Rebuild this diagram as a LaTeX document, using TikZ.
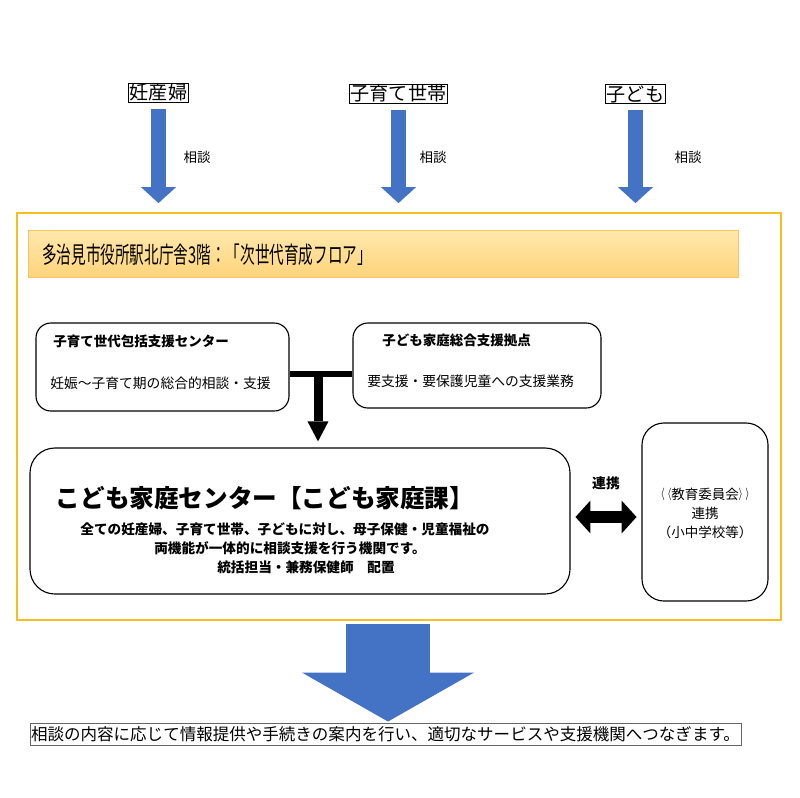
\documentclass[tikz,border=0pt]{standalone}
\usepackage{fontspec}
\usepackage{graphicx}
\setmainfont{Noto Sans CJK JP}
\usetikzlibrary{arrows.meta,fit}
\definecolor{azul}{HTML}{4472C4}
\definecolor{ouro}{HTML}{F4BF22}
\definecolor{faixaA}{HTML}{FFE8AC}
\definecolor{faixaB}{HTML}{FFD47C}
\begin{document}
\begin{tikzpicture}[x=0.025cm,y=-0.025cm,
  publico/.style={draw,inner xsep=1pt,inner ysep=.6pt,font=\fontsize{13.6pt}{14pt}\selectfont},
  consulta/.style={-{Triangle[width=24.8pt,length=11.3pt,line width=0pt]},line width=10.6pt,azul,
    shorten <=4.5pt,shorten >=6pt},
  nota/.style={font=\fontsize{9.6pt}{11pt}\selectfont,inner sep=0pt},
  moldura/.style={draw=ouro,line width=2.1pt,inner sep=0pt},
  faixa/.style={top color=faixaA,bottom color=faixaB,draw=faixaB!80!orange,line width=.3pt,inner sep=0pt},
  caixa/.style={draw,rounded corners=10.6pt,line width=.8pt,inner sep=0pt},
  titulo/.style={anchor=west,inner sep=0pt,font=\fontsize{9.6pt}{11pt}\selectfont\bfseries},
  texto/.style={anchor=west,inner sep=0pt,font=\fontsize{9.8pt}{11pt}\selectfont},
  linha/.style={inner sep=0pt,font=\fontsize{9.7pt}{11pt}\selectfont\bfseries},
  barra/.style={line width=4.3pt},
  haste/.style={-{Triangle[width=14.9pt,length=14.2pt,line width=0pt]},line width=6.4pt,shorten >=4.3pt},
  ligacao/.style={{Triangle[width=23.4pt,length=10.6pt,line width=0pt]}-{Triangle[width=23.4pt,length=10.6pt,line width=0pt]},
    line width=9.2pt,shorten <=3.5pt,shorten >=3.5pt},
  resultado/.style={-{Triangle[width=122pt,length=34.7pt,line width=0pt]},line width=60.3pt,azul,
    shorten <=2.8pt,shorten >=1.4pt}]
  \useasboundingbox (0,0) rectangle (800,797);
  \node[publico] (p) at (158.5,92.5) {妊産婦};
  \node[publico] (f) at (398.5,93.5) {子育て世帯};
  \node[publico] (c) at (635.5,94) {子ども};
  \node[moldura,fit={(17,213) (781,620)}] (m) {};
  \foreach \n/\x in {p/197,f/433,c/688} {
    \draw[consulta] (\n.south) -- (\n.south |- m.north);
    \node[nota] (t\n) at (\x,157) {相談};
  }
  \node[faixa,fit={(28,230) (738,277)}] (h) {};
  \node[anchor=west,inner sep=0pt] (ht) at (42,255)
    {\scalebox{0.63}[1]{\fontsize{16.5pt}{18pt}\selectfont 多治見市役所駅北庁舎3階：「次世代育成フロア」}};
  \node[caixa,fit={(36,323) (289,411)}] (b1) {};
  \node[titulo] (b1t) at (53,341) {子育て世代包括支援センター};
  \node[texto] (b1s) at (50,383) {妊娠～子育て期の総合的相談・支援};
  \node[caixa,fit={(353,323) (601,408)}] (b2) {};
  \node[titulo] (b2t) at (382,340) {子ども家庭総合支援拠点};
  \node[texto] (b2s) at (367,381) {要支援・要保護児童への支援業務};
  \node[caixa,rounded corners=17.7pt,fit={(30,448) (570,594)}] (cc) {};
  \node[inner sep=0pt,font=\fontsize{17.5pt}{19pt}\selectfont\bfseries] (cct) at (265,498)
    {こども家庭センター【こども家庭課】};
  \node[linha] (cc1) at (285,529) {全ての妊産婦、子育て世帯、子どもに対し、母子保健・児童福祉の};
  \node[linha] (cc2) at (290,548) {両機能が一体的に相談支援を行う機関です。};
  \node[linha] (cc3) at (306,567) {統括担当・兼務保健師　配置};
  \coordinate (tj) at (318,374);
  \draw[barra] (tj -| b1.east) -- (tj -| b2.west);
  \draw[haste] (tj) -- (tj |- cc.north);
  \node[caixa,rounded corners=15.6pt,fit={(642,423) (768,601)}] (ed) {};
  \node[align=center,inner sep=0pt,font=\fontsize{9.6pt}{13.5pt}\selectfont] (edt) at (705,513)
    {\scalebox{.5}[1]{〈〈}教育委員会\scalebox{.5}[1]{〉〉}\\連携\\（小中学校等）};
  \coordinate (lg) at (606,517);
  \draw[ligacao] (lg -| cc.east) -- (lg -| ed.west);
  \node[inner sep=0pt,font=\fontsize{9.8pt}{11pt}\selectfont\bfseries] (lgt) at (606,483) {連携};
  \node[draw=black!60,inner xsep=.8pt,inner ysep=2.2pt,font=\fontsize{11.75pt}{13pt}\selectfont] (fb) at (385.5,734.5)
    {相談の内容に応じて情報提供や手続きの案内を行い、適切なサービスや支援機関へつなぎます。};
  \coordinate (sg) at (388,620);
  \draw[resultado] (sg) -- (sg |- fb.north);
\end{tikzpicture}
\end{document}
